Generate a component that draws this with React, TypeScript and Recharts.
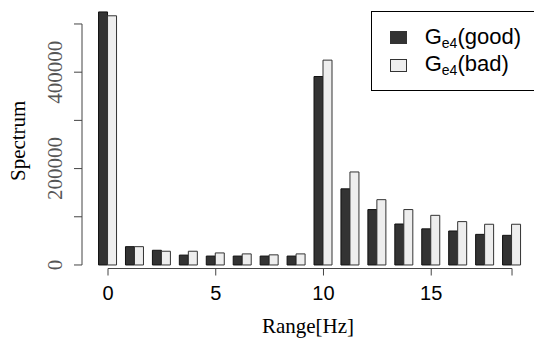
import React from 'react';
import { BarChart, Bar, XAxis, YAxis, Legend, ReferenceLine } from 'recharts';

// frequency bins (Hz)
const freqs = [0, 1.25, 2.5, 3.75, 5, 6.25, 7.5, 8.75, 10, 11.25, 12.5, 13.75, 15, 16.25, 17.5, 18.75];
const goodValues = [525000, 38000, 30500, 20500, 18500, 18500, 18500, 18500, 391000, 158000, 115000, 85000, 75000, 70500, 63500, 61500];
const badValues = [517000, 38000, 28500, 28500, 25000, 23000, 21000, 23000, 425000, 193000, 135500, 115000, 103000, 90000, 84500, 84500];

const xTicks = [0, 5, 10, 15, 18.75];
const xTickLabels = ['0', '5', '10', '15', ''];
const yTicks = [0, 100000, 200000, 300000, 400000, 500000];
const yTickLabels = ['0', '', '200000', '', '400000', ''];

const seriesKeys = ['good', 'bad'];
const seriesColors = ['#333333', '#EEEEEE'];
const legendLabels = [
  { main: 'G', sub: 'e4', tail: '(good)' },
  { main: 'G', sub: 'e4', tail: '(bad)' },
];

const X_MIN = -1.207;
const X_MAX = 19.77;
const Y_MIN = -7300;
const Y_MAX = 529000;

const SANS = '"Liberation Sans", Arial, sans-serif';
const SERIF = '"Liberation Serif", "Times New Roman", serif';

const data = freqs.map((f, i) => ({ freq: f, good: goodValues[i], bad: badValues[i] }));

const XTick = (props: any) => {
  const { x, y, payload } = props;
  const label = xTickLabels[xTicks.indexOf(payload.value)] ?? '';
  if (!label) return null;
  return (
    <text x={x} y={y + 22} textAnchor="middle" fontFamily={SANS} fontSize={20} fill="#000">
      {label}
    </text>
  );
};

const YTick = (props: any) => {
  const { x, y, payload } = props;
  const label = yTickLabels[yTicks.indexOf(payload.value)] ?? '';
  if (!label) return null;
  return (
    <text
      transform={`translate(${x - 10},${y}) rotate(-90)`}
      textAnchor="middle"
      fontFamily={SERIF}
      fontSize={21}
      fill="#555"
    >
      {label}
    </text>
  );
};

const renderLegend = (props: any) => {
  const payload = props.payload || [];
  const items = seriesKeys.map((k, i) => {
    const entry = payload.find((p: any) => p.dataKey === k);
    return { color: entry ? entry.color : seriesColors[i], lbl: legendLabels[i] };
  });
  return (
    <div
      style={{
        borderTop: '1px solid #000',
        borderLeft: '1px solid #000',
        borderBottom: '1px solid #000',
        height: 80,
        width: 180,
        background: '#fff',
        paddingTop: 12,
        boxSizing: 'border-box',
        fontFamily: SANS,
      }}
    >
      {items.map((it, i) => (
        <div key={i} style={{ display: 'flex', alignItems: 'center', height: 27.5, paddingLeft: 18 }}>
          <div
            style={{
              width: 15,
              height: 11,
              background: it.color,
              border: '1px solid #333',
              marginRight: 18,
            }}
          />
          <span style={{ fontSize: 22, color: '#000', whiteSpace: 'nowrap', lineHeight: '22px' }}>
            {it.lbl.main}
            <span style={{ fontSize: 14, position: 'relative', top: 4 }}>{it.lbl.sub}</span>
            {it.lbl.tail}
          </span>
        </div>
      ))}
    </div>
  );
};

export default function App() {
  return (
    <div style={{ position: 'absolute', left: 0, top: 0, width: 534, height: 340, overflow: 'hidden' }}>
      <BarChart
        width={534}
        height={340}
        data={data}
        margin={{ top: 10, right: 0, bottom: 41.5, left: 8 }}
        barGap={0}
        barSize={9}
      >
        <XAxis
          dataKey="freq"
          type="number"
          domain={[X_MIN, X_MAX]}
          ticks={xTicks}
          interval={0}
          height={30}
          axisLine={false}
          tickLine={{ stroke: '#444' }}
          tickSize={7}
          tickMargin={2}
          tick={<XTick />}
          label={{
            content: (p: any) => {
              const vb = p.viewBox;
              return (
                <text x={vb.x + vb.width / 2} y={332.5} textAnchor="middle" fontFamily={SERIF} fontSize={21} fill="#000">
                  Range[Hz]
                </text>
              );
            },
          }}
        />
        <YAxis
          type="number"
          domain={[Y_MIN, Y_MAX]}
          ticks={yTicks}
          interval={0}
          width={74}
          axisLine={false}
          tickLine={{ stroke: '#444' }}
          tickSize={8}
          tickMargin={2}
          tick={<YTick />}
          label={{
            content: () => (
              <text
                transform="translate(25,140.8) rotate(-90)"
                textAnchor="middle"
                fontFamily={SERIF}
                fontSize={21}
                fill="#000"
              >
                Spectrum
              </text>
            ),
          }}
        />
        <ReferenceLine
          segment={[{ x: 0, y: Y_MIN }, { x: 18.75, y: Y_MIN }]}
          stroke="#444"
          ifOverflow="visible"
        />
        <ReferenceLine
          segment={[{ x: X_MIN, y: 0 }, { x: X_MIN, y: 500000 }]}
          stroke="#444"
          ifOverflow="visible"
        />
        <Legend
          layout="vertical"
          align="center"
          verticalAlign="middle"
          wrapperStyle={{ top: 11, left: 370.7, width: 180 }}
          content={renderLegend}
        />
        <Bar dataKey="good" name="good" fill={seriesColors[0]} stroke="#111" strokeWidth={1} isAnimationActive={false} />
        <Bar dataKey="bad" name="bad" fill={seriesColors[1]} stroke="#333" strokeWidth={1} isAnimationActive={false} />
      </BarChart>
    </div>
  );
}
